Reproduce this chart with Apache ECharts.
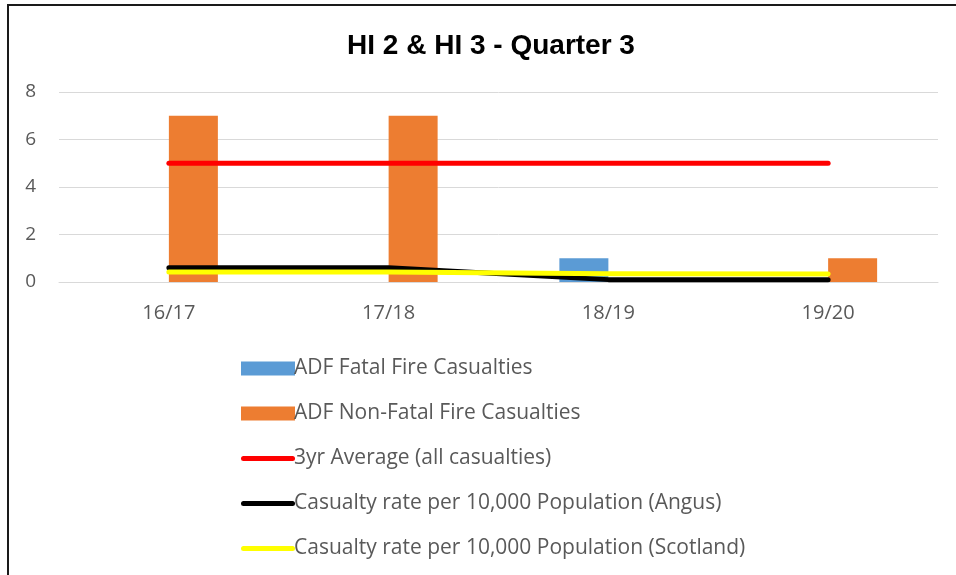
<!DOCTYPE html>
<html>
<head>
<meta charset="utf-8">
<script src="https://cdn.jsdelivr.net/npm/echarts@6/dist/echarts.min.js"></script>
<style>
    html, body { margin: 0; padding: 0; background: #ffffff; }
    .frame {
        position: absolute;
        left: 7px;
        top: 4px;
        width: 949px;
        height: 571px;
        border-left: 2px solid #1a1a1a;
        border-top: 2px solid #1a1a1a;
        box-sizing: border-box;
    }
    #chart { position: absolute; left: 0; top: 0; width: 956px; height: 575px; }
</style>
</head>
<body>
<div class="frame"></div>
<div id="chart"></div>
<script>
    const categories = ['16/17', '17/18', '18/19', '19/20'];
    const fatal = [0, 0, 1, 0];
    const nonFatal = [7, 7, 0, 1];
    const threeYrAvg = [5, 5, 5, 5];
    const angusRate = [0.6, 0.6, 0.1, 0.1];
    const scotlandRate = [0.42, 0.42, 0.35, 0.34];

    const textColor = '#595959';
    const font = 'Open Sans';
    // thick rounded line for the legend keys of the line series
    const lineIcon = 'path://M2.5,0 L51.5,0 A2.5,2.5 0 0 1 51.5,5 L2.5,5 A2.5,2.5 0 0 1 2.5,0 Z';

    const lineSeries = (name, data, color) => ({
        name: name,
        type: 'line',
        data: data,
        symbol: 'none',
        itemStyle: { color: color },
        lineStyle: { color: color, width: 5, cap: 'round', join: 'round' },
        z: 3
    });

    const chart = echarts.init(document.getElementById('chart'));
    chart.setOption({
        animation: false,
        title: {
            text: 'HI 2 & HI 3 - Quarter 3',
            left: 486,
            textAlign: 'center',
            top: 27,
            textStyle: {
                fontFamily: 'Liberation Sans',
                fontSize: 28,
                fontWeight: 'bold',
                color: '#000000'
            }
        },
        grid: {
            left: 59,
            right: 18,
            top: 92,
            bottom: 293
        },
        legend: {
            orient: 'vertical',
            left: 236,
            top: 353,
            height: 218,
            itemWidth: 54,
            itemHeight: 14,
            itemGap: 24,
            textStyle: {
                fontFamily: font,
                fontSize: 21,
                color: textColor,
                padding: [0, 0, 0, -6]
            },
            data: [
                { name: 'ADF Fatal Fire Casualties', icon: 'rect' },
                { name: 'ADF Non-Fatal Fire Casualties', icon: 'rect' },
                { name: '3yr Average (all casualties)', icon: lineIcon },
                { name: 'Casualty rate per 10,000 Population (Angus)', icon: lineIcon },
                { name: 'Casualty rate per 10,000 Population (Scotland)', icon: lineIcon }
            ]
        },
        xAxis: {
            type: 'category',
            data: categories,
            axisTick: { show: false },
            axisLine: { lineStyle: { color: '#d9d9d9', width: 1 } },
            axisLabel: {
                fontFamily: font,
                fontSize: 20,
                color: textColor,
                margin: 21
            }
        },
        yAxis: {
            type: 'value',
            min: 0,
            max: 8,
            interval: 2,
            axisLine: { show: false },
            axisTick: { show: false },
            splitLine: { lineStyle: { color: '#d9d9d9', width: 1 } },
            axisLabel: {
                fontFamily: font,
                fontSize: 19,
                color: textColor,
                margin: 23
            }
        },
        series: [
            {
                name: 'ADF Fatal Fire Casualties',
                type: 'bar',
                data: fatal,
                barWidth: 49,
                barGap: '0%',
                itemStyle: { color: '#5b9bd5' }
            },
            {
                name: 'ADF Non-Fatal Fire Casualties',
                type: 'bar',
                data: nonFatal,
                barWidth: 49,
                itemStyle: { color: '#ed7d31' }
            },
            lineSeries('3yr Average (all casualties)', threeYrAvg, '#ff0000'),
            lineSeries('Casualty rate per 10,000 Population (Angus)', angusRate, '#000000'),
            lineSeries('Casualty rate per 10,000 Population (Scotland)', scotlandRate, '#ffff00')
        ]
    });
</script>
</body>
</html>
